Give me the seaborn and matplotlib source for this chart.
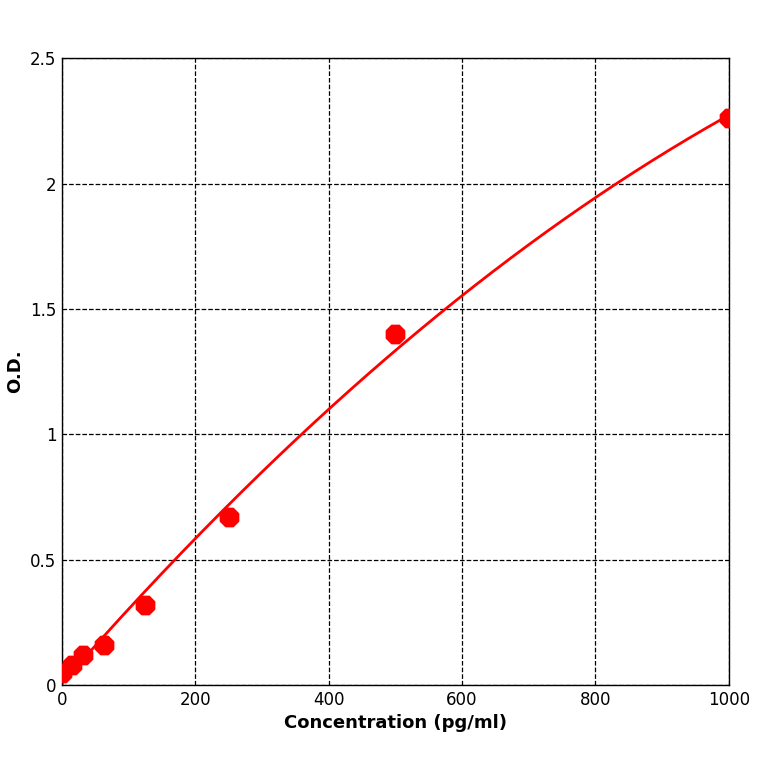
import numpy as np
import pandas as pd
import matplotlib
matplotlib.use("Agg")
import matplotlib.pyplot as plt
import seaborn as sns

# standard curve points
concentration = [0, 15.6, 31.25, 62.5, 125, 250, 500, 1000]
od = [0.05, 0.08, 0.12, 0.16, 0.32, 0.67, 1.40, 2.26]

df = pd.DataFrame({"conc": concentration, "od": od})

# smooth fitted curve through the standards
coef = np.polyfit(df["conc"], df["od"], 2)
xs = np.linspace(0, 1000, 300)
fit = pd.DataFrame({"conc": xs, "od": np.polyval(coef, xs)})

sns.set_style("white")
fig = plt.figure(figsize=(7.64, 7.64), dpi=100)
ax = fig.add_axes([0.081, 0.103, 0.873, 0.821])

sns.lineplot(data=fit, x="conc", y="od", color="red", linewidth=2, ax=ax)
sns.scatterplot(data=df, x="conc", y="od", color="red", s=200, marker="8",
                edgecolor="red", ax=ax, zorder=5)

ax.set_xlim(0, 1000)
ax.set_ylim(0, 2.5)
ax.set_xticks([0, 200, 400, 600, 800, 1000])
ax.set_yticks([0, 0.5, 1, 1.5, 2, 2.5])
ax.set_yticklabels(["0", "0.5", "1", "1.5", "2", "2.5"])
ax.grid(True, color="black", linestyle="--", linewidth=0.9)
for s in ax.spines.values():
    s.set_color("black")
    s.set_linewidth(1)
ax.tick_params(labelsize=12, length=0, pad=4, colors="black")
ax.set_xlabel("Concentration (pg/ml)", fontsize=13, fontweight="bold", color="black")
ax.set_ylabel("O.D.", fontsize=13, fontweight="bold", color="black")

fig.savefig("out.png", dpi=100)
